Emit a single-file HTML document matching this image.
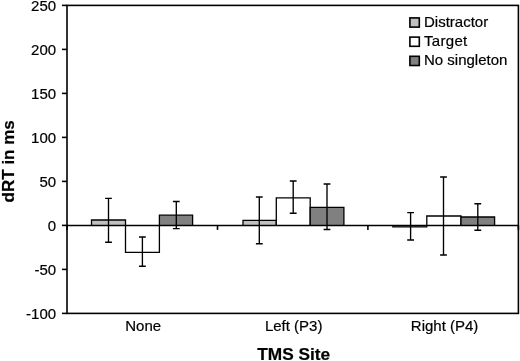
<!DOCTYPE html><html><head><meta charset="utf-8"><title>chart</title><style>html,body{margin:0;padding:0;background:#fff}svg{display:block;will-change:transform}text{stroke:#000;stroke-width:0.2px;font-family:"Liberation Sans",Arial,sans-serif;fill:#000}</style></head><body>
<svg width="520" height="361" viewBox="0 0 520 361">
<rect width="520" height="361" fill="#fff"/>
<g stroke="#000" stroke-width="1.6" fill="none" stroke-linecap="butt">
<rect x="67.0" y="5.4" width="451.4" height="308.0"/>
<line x1="62.0" y1="5.4" x2="67.0" y2="5.4"/>
<line x1="62.0" y1="49.4" x2="67.0" y2="49.4"/>
<line x1="62.0" y1="93.4" x2="67.0" y2="93.4"/>
<line x1="62.0" y1="137.4" x2="67.0" y2="137.4"/>
<line x1="62.0" y1="181.4" x2="67.0" y2="181.4"/>
<line x1="62.0" y1="225.4" x2="67.0" y2="225.4"/>
<line x1="62.0" y1="269.4" x2="67.0" y2="269.4"/>
<line x1="62.0" y1="313.4" x2="67.0" y2="313.4"/>
<line x1="67.0" y1="225.4" x2="67.0" y2="229.9"/>
<line x1="217.5" y1="225.4" x2="217.5" y2="229.9"/>
<line x1="367.9" y1="225.4" x2="367.9" y2="229.9"/>
<line x1="518.4" y1="225.4" x2="518.4" y2="229.9"/>
</g>
<g stroke="#000" stroke-width="1.3">
<path d="M91.5 225.4V220.0H125.5V225.4" fill="#c0c0c0"/>
<path d="M125.5 225.4V252.3H159.4V225.4" fill="#fff"/>
<path d="M159.4 225.4V215.2H192.6V225.4" fill="#808080"/>
<path d="M243.0 225.4V220.3H276.3V225.4" fill="#c0c0c0"/>
<path d="M276.3 225.4V197.8H310.2V225.4" fill="#fff"/>
<path d="M310.2 225.4V207.4H343.9V225.4" fill="#808080"/>
<path d="M392.9 225.4V226.8H426.8V225.4" fill="#c0c0c0"/>
<path d="M426.8 225.4V216.0H461.0V225.4" fill="#fff"/>
<path d="M461.0 225.4V217.0H494.6V225.4" fill="#808080"/>
</g>
<line x1="67.0" y1="225.4" x2="518.4" y2="225.4" stroke="#000" stroke-width="1.45"/>
<g stroke="#000" stroke-width="1.35" fill="none">
<path d="M108.5 198.3V242.2M105.1 198.3H111.9M105.1 242.2H111.9"/>
<path d="M142.4 237V266.2M139.0 237H145.8M139.0 266.2H145.8"/>
<path d="M176.3 201.5V228.6M172.9 201.5H179.70000000000002M172.9 228.6H179.70000000000002"/>
<path d="M259.3 197V243.7M255.9 197H262.7M255.9 243.7H262.7"/>
<path d="M293.2 181V213.2M289.8 181H296.59999999999997M289.8 213.2H296.59999999999997"/>
<path d="M327 184V229.5M323.6 184H330.4M323.6 229.5H330.4"/>
<path d="M410.6 212.6V240M407.20000000000005 212.6H414.0M407.20000000000005 240H414.0"/>
<path d="M443.5 177V255M440.1 177H446.9M440.1 255H446.9"/>
<path d="M477.8 203.7V230.2M474.40000000000003 203.7H481.2M474.40000000000003 230.2H481.2"/>
</g>
<g font-size="15" text-anchor="end">
<text x="56.1" y="11.0">250</text>
<text x="56.1" y="55.0">200</text>
<text x="56.1" y="99.0">150</text>
<text x="56.1" y="143.0">100</text>
<text x="56.1" y="187.0">50</text>
<text x="56.1" y="231.0">0</text>
<text x="56.1" y="275.0">-50</text>
<text x="56.1" y="319.0">-100</text>
</g>
<g font-size="15" text-anchor="middle">
<text x="143.2" y="331.4">None</text>
<text x="293.65" y="330.9">Left (P3)</text>
<text x="444.6" y="330.9">Right (P4)</text>
</g>
<text x="293.75" y="359.8" font-size="17.3" font-weight="bold" text-anchor="middle">TMS Site</text>
<text transform="translate(13.7,161.3) rotate(-90)" font-size="17" font-weight="bold" text-anchor="middle">dRT in ms</text>
<rect x="409.9" y="17.9" width="9.4" height="9.2" fill="#c0c0c0" stroke="#000" stroke-width="1.6"/>
<text x="424" y="26.9" font-size="15">Distractor</text>
<rect x="409.9" y="37.1" width="9.4" height="9.2" fill="#fff" stroke="#000" stroke-width="1.6"/>
<text x="424" y="46.1" font-size="15" letter-spacing="0.3">Target</text>
<rect x="409.9" y="56.3" width="9.4" height="9.2" fill="#808080" stroke="#000" stroke-width="1.6"/>
<text x="424" y="65.3" font-size="15">No singleton</text>
</svg></body></html>
